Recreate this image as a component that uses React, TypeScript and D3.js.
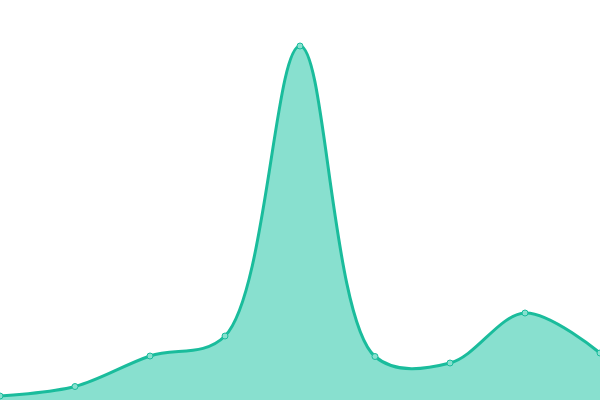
import React from "react";
import * as d3 from "d3";

const xIndex = [0, 1, 2, 3, 4, 5, 6, 7, 8];
const values = [4, 13.5, 44, 64, 354, 43.5, 37, 87, 47];

const W = 600;
const H = 400;

export default function App() {
  const x = d3.scaleLinear().domain([0, 8]).range([0, W]);
  const y = d3.scaleLinear().domain([0, 400]).range([H, 0]);
  const data = xIndex.map((i) => ({ i, v: values[i] }));
  const curve = d3.curveCatmullRom.alpha(0.5);
  const area = d3
    .area<{ i: number; v: number }>()
    .x((d) => x(d.i))
    .y0(H)
    .y1((d) => y(d.v))
    .curve(curve);
  const line = d3
    .line<{ i: number; v: number }>()
    .x((d) => x(d.i))
    .y((d) => y(d.v))
    .curve(curve);
  return (
    <svg
      width={W}
      height={H}
      style={{ position: "absolute", left: 0, top: 0, display: "block" }}
    >
      <rect width={W} height={H} fill="#ffffff" />
      <path d={area(data) ?? ""} fill="#88e0cf" />
      <path d={line(data) ?? ""} fill="none" stroke="#1abc9c" strokeWidth={3} />
      {data.map((d) => (
        <circle
          key={d.i}
          cx={x(d.i)}
          cy={y(d.v)}
          r={3}
          fill="#88e0cf"
          stroke="#1abc9c"
          strokeWidth={1}
        />
      ))}
    </svg>
  );
}
